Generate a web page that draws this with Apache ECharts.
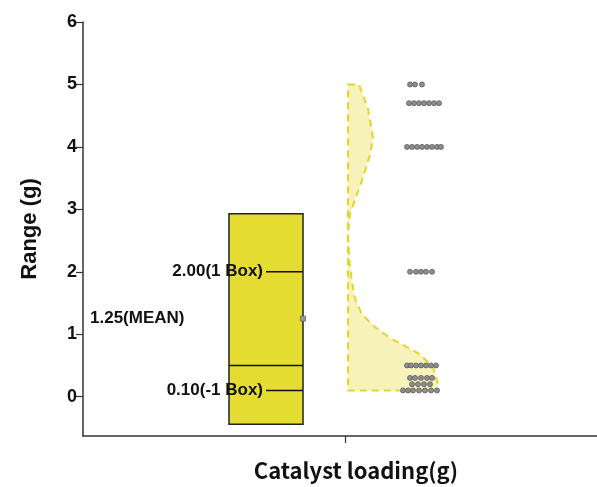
<!DOCTYPE html>
<html><head><meta charset="utf-8">
<script src="https://cdn.jsdelivr.net/npm/echarts@6/dist/echarts.min.js"></script>
<style>html,body{margin:0;padding:0;background:#fff}#chart{width:597px;height:487px}</style>
</head><body><div id="chart"></div>
<script>
// Y axis tick values
const yTicks = [0, 1, 2, 3, 4, 5, 6];

// Box summary (mean ± SD box with marked reference lines)
const boxBottom = -0.44;
const boxTop = 2.93;
const boxLines = [2.00, 0.50, 0.10];
const boxLineLabels = ['2.00(1 Box)', '', '0.10(-1 Box)'];
const meanValue = 1.25;
const meanLabel = '1.25(MEAN)';

// Half-violin density profile: level and relative width
const kdeLevels = [5.0, 4.61, 4.14, 3.87, 3.51, 3.15, 2.93, 2.61, 2.3, 2.09, 1.83, 1.57, 1.35, 1.15, 0.94, 0.68, 0.47, 0.2, 0.1];
const kdeWidths = [0.11, 0.20, 0.25, 0.22, 0.15, 0.07, 0.02, 0.0, 0.01, 0.02, 0.04, 0.07, 0.13, 0.24, 0.42, 0.72, 0.85, 0.90, 0.89];

// Raw observations and their horizontal jitter positions
const pointValues = [
  5.0, 5.0, 5.0,
  4.7, 4.7, 4.7, 4.7, 4.7, 4.7, 4.7,
  4.0, 4.0, 4.0, 4.0, 4.0, 4.0, 4.0, 4.0,
  2.0, 2.0, 2.0, 2.0, 2.0,
  0.5, 0.5, 0.5, 0.5, 0.5, 0.5, 0.5,
  0.3, 0.3, 0.3, 0.3, 0.3,
  0.2, 0.2, 0.2, 0.2,
  0.1, 0.1, 0.1, 0.1, 0.1, 0.1, 0.1
];
const pointJitter = [
  1.65, 1.70, 1.77,
  1.64, 1.69, 1.74, 1.79, 1.84, 1.89, 1.94,
  1.62, 1.67, 1.72, 1.77, 1.82, 1.87, 1.92, 1.96,
  1.65, 1.71, 1.76, 1.81, 1.87,
  1.62, 1.66, 1.71, 1.76, 1.81, 1.86, 1.91,
  1.65, 1.70, 1.76, 1.82, 1.87,
  1.67, 1.73, 1.79, 1.85,
  1.58, 1.63, 1.68, 1.74, 1.80, 1.86, 1.92
];

// Layout constants along the x axis (category centre is at x = 1)
const BOX_CENTER = 0.21;
const BOX_HALF = 0.37;
const VIOLIN_BASE = 1.03;

const labelFont = 'bold 17px "Liberation Sans", Arial, sans-serif';

const chart = echarts.init(document.getElementById('chart'), null, { renderer: 'canvas' });

const option = {
  backgroundColor: '#ffffff',
  animation: false,
  grid: { left: 83, right: 0, top: 22, bottom: 43, containLabel: false },
  xAxis: {
    type: 'value',
    min: -1.62,
    max: 3.52,
    name: 'Catalyst loading(g)',
    nameLocation: 'middle',
    nameGap: 24,
    nameTextStyle: {
      fontFamily: '"Noto Sans CJK JP", "Liberation Sans", sans-serif',
      fontWeight: 'bold', fontSize: 22, color: '#111', padding: [0, 0, 0, 32]
    },
    axisLine: { show: true, onZero: false, lineStyle: { color: '#333', width: 1.5 } },
    axisTick: { show: true, customValues: [1], length: 7, lineStyle: { color: '#333', width: 1.2 } },
    axisLabel: { show: false },
    splitLine: { show: false }
  },
  yAxis: {
    type: 'value',
    min: -0.63,
    max: 6,
    name: 'Range (g)',
    nameLocation: 'middle',
    nameGap: 42,
    nameTextStyle: {
      fontFamily: '"Liberation Sans", Arial, sans-serif',
      fontWeight: 'bold', fontSize: 22, color: '#111'
    },
    axisLine: { show: true, onZero: false, lineStyle: { color: '#333', width: 1.5 } },
    axisTick: { show: true, customValues: yTicks, length: 7, lineStyle: { color: '#333', width: 1.2 } },
    axisLabel: {
      customValues: yTicks,
      fontFamily: '"Liberation Sans", Arial, sans-serif',
      fontWeight: 'bold', fontSize: 18, color: '#111', margin: 6
    },
    splitLine: { show: false }
  },
  series: [
    {
      // half violin
      type: 'custom',
      z: 2,
      data: [0],
      renderItem: function (params, api) {
        const pts = [api.coord([VIOLIN_BASE, kdeLevels[0]])];
        for (let i = 0; i < kdeLevels.length; i++) {
          pts.push(api.coord([VIOLIN_BASE + kdeWidths[i], kdeLevels[i]]));
        }
        pts.push(api.coord([VIOLIN_BASE, kdeLevels[kdeLevels.length - 1]]));
        return {
          type: 'polygon',
          shape: { points: pts },
          style: { fill: '#f7f2b9', stroke: '#e3d52c', lineWidth: 2, lineDash: [7, 5], lineJoin: 'round' }
        };
      }
    },
    {
      // box with reference lines, mean marker and labels
      type: 'custom',
      z: 3,
      data: [0],
      renderItem: function (params, api) {
        const tl = api.coord([BOX_CENTER - BOX_HALF, boxTop]);
        const br = api.coord([BOX_CENTER + BOX_HALF, boxBottom]);
        const children = [{
          type: 'rect',
          shape: { x: tl[0], y: tl[1], width: br[0] - tl[0], height: br[1] - tl[1] },
          style: { fill: '#e5dc32', stroke: '#222', lineWidth: 1.5 }
        }];
        boxLines.forEach(function (v, i) {
          const y = api.coord([0, v])[1];
          const label = boxLineLabels[i];
          if (label) {
            const textRight = br[0] - 40;
            children.push({
              type: 'line',
              shape: { x1: textRight + 3, y1: y, x2: br[0], y2: y },
              style: { stroke: '#111', lineWidth: 1.5 }
            });
            children.push({
              type: 'text',
              z2: 10,
              style: { text: label, x: textRight, y: y, align: 'right', verticalAlign: 'middle', font: labelFont, fill: '#111' }
            });
          } else {
            children.push({
              type: 'line',
              shape: { x1: tl[0], y1: y, x2: br[0], y2: y },
              style: { stroke: '#111', lineWidth: 1.5 }
            });
          }
        });
        const my = api.coord([0, meanValue])[1];
        children.push({
          type: 'rect',
          shape: { x: br[0] - 2.5, y: my - 2.5, width: 5, height: 5 },
          style: { fill: '#9a9a9a', stroke: '#666', lineWidth: 0.8 }
        });
        children.push({
          type: 'text',
          style: { text: meanLabel, x: tl[0] - 139, y: my, align: 'left', verticalAlign: 'middle', font: labelFont, fill: '#111' }
        });
        return { type: 'group', children: children };
      }
    },
    {
      // jittered raw points
      type: 'scatter',
      z: 4,
      symbol: 'circle',
      symbolSize: 5,
      itemStyle: { color: '#8e8e8e', borderColor: '#5a5a5a', borderWidth: 0.8, opacity: 1 },
      data: pointValues.map(function (v, i) { return [pointJitter[i], v]; })
    }
  ]
};

chart.setOption(option);
</script>
</body></html>
